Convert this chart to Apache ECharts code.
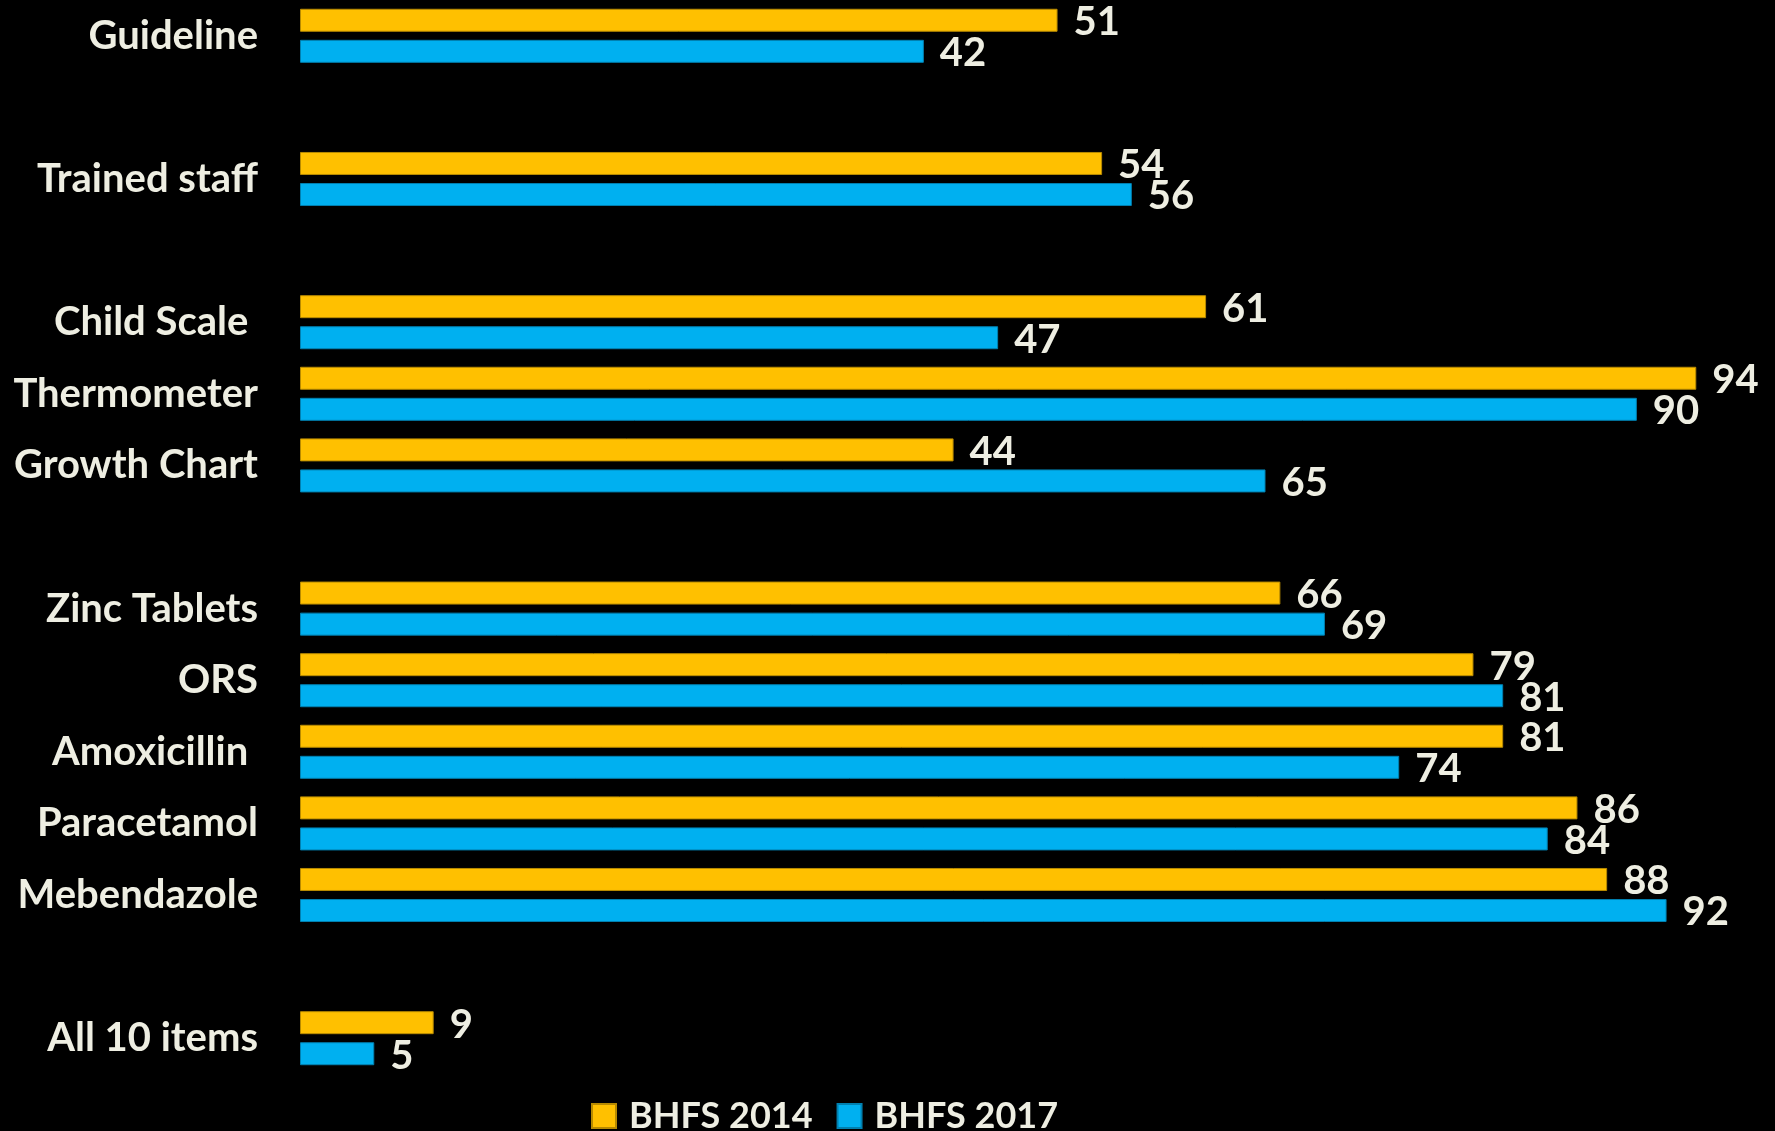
<!DOCTYPE html>
<html style="width:100%;height:100%;">
<head>
<meta charset="UTF-8">
<title>BHFS</title>
<script src="https://cdn.jsdelivr.net/npm/echarts@6/dist/echarts.min.js"></script>
</head>
<body style="width:100%;height:100%;margin:0;padding:0;background:#000;">
<div id="chart" style="width:1775px;height:1131px;"></div>
<script>
// categories, '' rows are spacers between groups
var categories = ['Guideline', '', 'Trained staff', ' ', 'Child Scale ', 'Thermometer', 'Growth Chart', '  ',
	'Zinc Tablets', 'ORS', 'Amoxicillin ', 'Paracetamol', 'Mebendazole', '   ', 'All 10 items'];
var bhfs2014 = [51, null, 54, null, 61, 94, 44, null, 66, 79, 81, 86, 88, null, 9];
var bhfs2017 = [42, null, 56, null, 47, 90, 65, null, 69, 81, 74, 84, 92, null, 5];
var seriesNames = ['BHFS 2014', 'BHFS 2017'];

var textColor = '#eeeee2';
var fontFam = 'Lato, "Open Sans", sans-serif';

var myChart = echarts.init(document.getElementById('chart'));

function barSeries(name, data, color, border) {
	return {
		name: name,
		type: 'bar',
		data: data,
		barWidth: 23,
		barGap: '35%',
		itemStyle: {
			color: color,
			borderColor: border,
			borderWidth: 1
		},
		label: {
			show: true,
			position: 'right',
			distance: 16,
			offset: [0, 2],
			color: textColor,
			fontSize: 40,
			fontWeight: 'bold',
			fontFamily: fontFam
		}
	};
}

var option = {
	backgroundColor: '#000000',
	animation: false,
	grid: {
		left: 300,
		top: 0,
		right: 0,
		height: 1074,
		outerBoundsMode: 'none'
	},
	xAxis: {
		type: 'value',
		min: 0,
		max: 99.3,
		show: false
	},
	yAxis: {
		type: 'category',
		inverse: true,
		data: categories,
		axisLine: { show: false },
		axisTick: { show: false },
		splitLine: { show: false },
		axisLabel: {
			margin: 42,
			color: textColor,
			fontSize: 40,
			fontWeight: 'bold',
			fontFamily: fontFam
		}
	},
	legend: {
		left: 586,
		top: 1093,
		icon: 'rect',
		itemWidth: 24,
		itemHeight: 24,
		itemGap: 24,
		data: seriesNames,
		textStyle: {
			color: textColor,
			fontSize: 36,
			fontWeight: 'bold',
			fontFamily: fontFam,
			padding: [0, 0, 0, 8]
		}
	},
	series: [
		barSeries(seriesNames[0], bhfs2014, '#ffc000', '#b88a00'),
		barSeries(seriesNames[1], bhfs2017, '#00b0f0', '#0080b0')
	]
};

myChart.setOption(option);
</script>
</body>
</html>
